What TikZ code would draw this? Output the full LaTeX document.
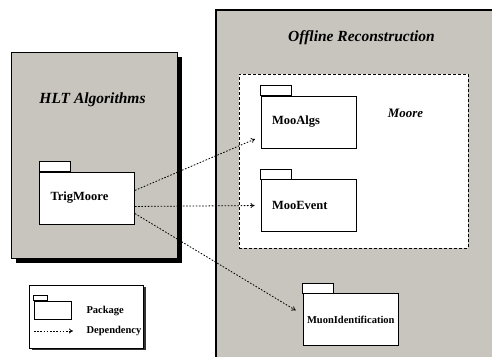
\documentclass[tikz,border=0pt]{standalone}
\usepackage{fontspec}
\setmainfont{Liberation Serif}
\usetikzlibrary{arrows.meta}

\newlength{\du}
\setlength{\du}{1pt}
\definecolor{boxgray}{RGB}{200,197,190}

\tikzset{
  frame/.style={draw=black, fill=boxgray, line width=1.000000\du, inner sep=0pt},
  shadebox/.style={fill=black, inner sep=0pt},
  pkg/.style={draw=black, fill=white, line width=0.900000\du, inner sep=0pt,
    inner xsep=11\du, minimum width=95\du, minimum height=52\du,
    text width=73\du, align=left, font=\fontsize{12.5}{14}\selectfont\bfseries},
  pkgtab/.style={draw=black, fill=white, line width=0.900000\du},
  title/.style={font=\fontsize{15.5}{18}\selectfont\bfseries\itshape},
  legtext/.style={anchor=west, font=\fontsize{10.5}{12}\selectfont\bfseries},
  dep/.style={line width=0.800000\du, dash pattern=on 1.6\du off 1.6\du,
    -{To[length=4pt,width=5pt]}},
}

\begin{document}
\begin{tikzpicture}
\pgftransformxscale{1.000000}
\pgftransformyscale{-1.000000}
\useasboundingbox (0.000000\du,0.000000\du) rectangle (492.000000\du,356.000000\du);
\clip (0.000000\du,0.000000\du) rectangle (492.000000\du,356.000000\du);

% subsystem frames
\node[shadebox, minimum width=166\du, minimum height=206\du] (hltshadow) at (99.000000\du,160.000000\du) {};
\node[frame, minimum width=166\du, minimum height=206\du] (hlt) at (94.000000\du,155.000000\du) {};
\node[title] (hlttitle) at (92.500000\du,100.000000\du) {HLT Algorithms};
\node[frame, line width=1.400000\du, minimum width=290\du, minimum height=370\du] (offline) at (361.000000\du,195.000000\du) {};
\node[title] (offlinetitle) at (361.500000\du,38.000000\du) {Offline Reconstruction};
\node[draw=black, fill=white, line width=1.000000\du, dash pattern=on 3\du off 2\du,
  minimum width=229\du, minimum height=174\du] (moore) at (353.500000\du,161.000000\du) {};
\node[font=\fontsize{12.9}{15}\selectfont\bfseries\itshape] (mooretitle) at (405.500000\du,113.000000\du) {Moore};

% packages
\node[pkg] (trigmoore) at (87.000000\du,198.000000\du) {TrigMoore};
\node[pkg] (mooalgs) at (308.500000\du,122.000000\du) {MooAlgs};
\node[pkg] (mooevent) at (308.500000\du,205.500000\du) {MooEvent};
\node[pkg, inner xsep=4\du, text width=87\du, font=\fontsize{10.5}{12}\selectfont\bfseries] (muonid) at (350.500000\du,319.500000\du) {MuonIdentification};
\foreach \p in {trigmoore,mooalgs,mooevent,muonid}
  \draw[pkgtab] (\p.north west) rectangle +(31.000000\du,-10.000000\du);

% dependencies
\draw[dep, shorten >=6pt] (trigmoore.9.5) -- (mooalgs.197.5);
\draw[dep, shorten >=6pt] (trigmoore.350.5) -- (mooevent.west);
\draw[dep, shorten >=8pt] (trigmoore.342.6) -- (muonid.174.6);

% legend
\node[shadebox, fill=black!80, minimum width=114\du, minimum height=63\du] (legshadow) at (88.500000\du,318.500000\du) {};
\node[draw=black, fill=white, line width=0.800000\du, minimum width=114\du, minimum height=63\du] (legend) at (86.000000\du,316.500000\du) {};
\node[pkgtab, inner sep=0pt, minimum width=37\du, minimum height=18\du] (legpkg) at (52.500000\du,310.000000\du) {};
\draw[pkgtab] (legpkg.north west) rectangle +(14.000000\du,-5.000000\du);
\node[legtext] (legpkglabel) at (83.000000\du,311.000000\du) {Package};
\coordinate (legdep) at (34.000000\du,331.000000\du);
\node[legtext] (legdeplabel) at (83.000000\du,331.000000\du) {Dependency};
\draw[dep, shorten >=10pt] (legdep) -- (legdeplabel.west);
\end{tikzpicture}
\end{document}
